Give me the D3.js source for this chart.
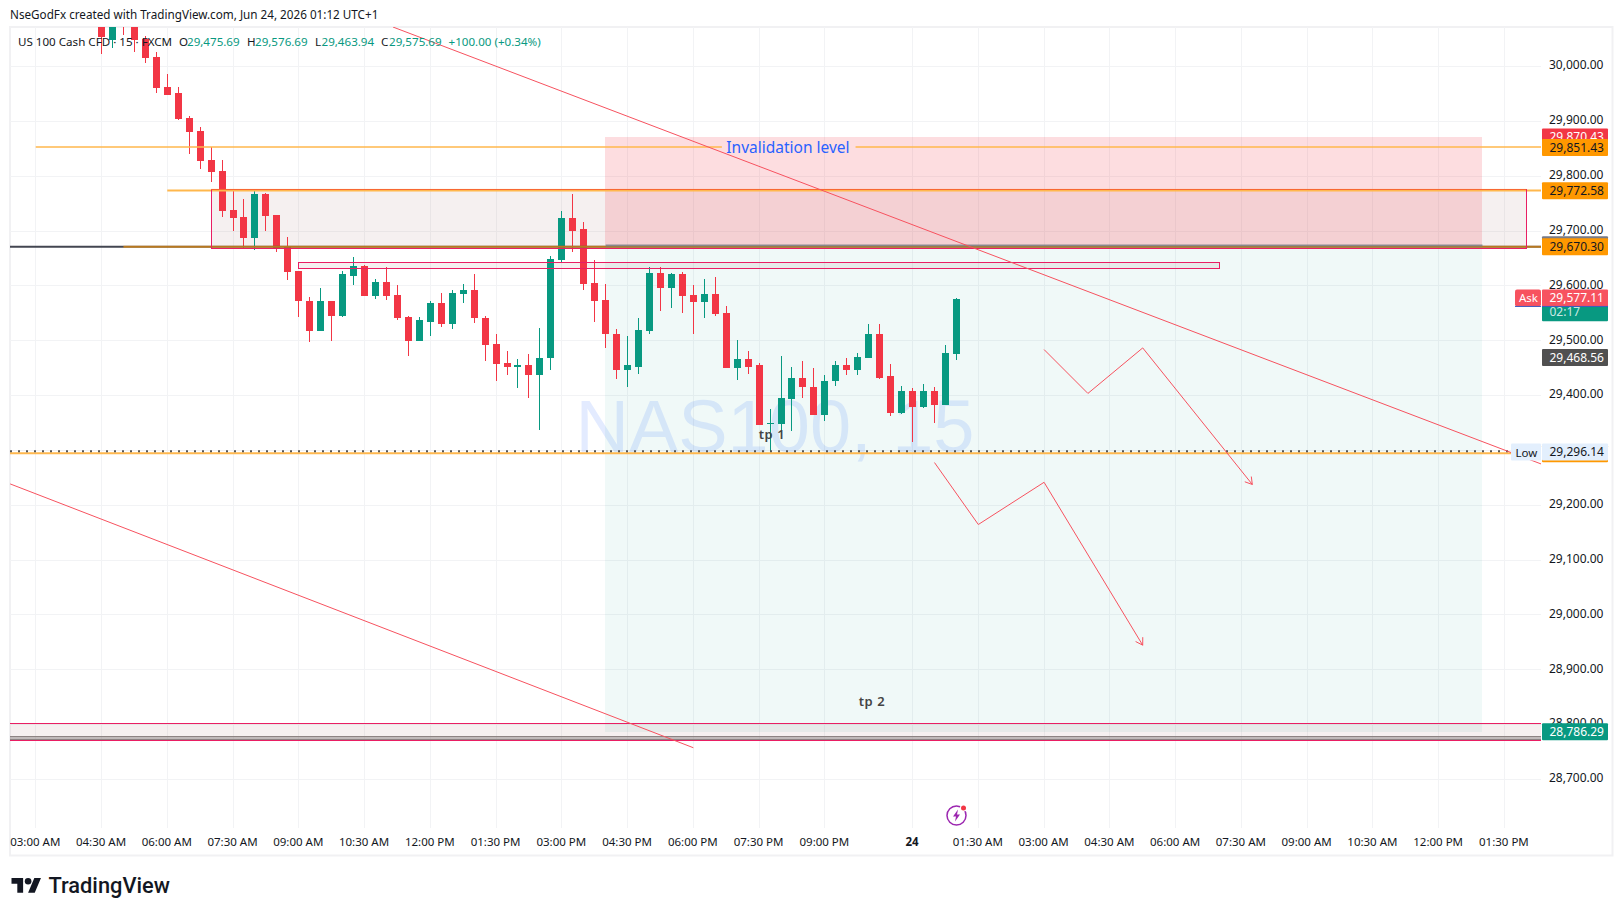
<!DOCTYPE html>
<html><head><meta charset="utf-8">
<script src="https://cdn.jsdelivr.net/npm/d3@7/dist/d3.min.js"></script>
<style>html,body{margin:0;padding:0;background:#fff;overflow:hidden}svg{display:block}text{font-family:"Noto Sans",sans-serif}</style>
</head><body><svg id="c" width="1623" height="916"></svg>
<script>
const opens=[30085,30048,30103,30088,30050,30016,29961,29950,29906,29881,29828,29808,29738,29724,29687,29766,29729,29671,29627,29572,29516,29572,29545,29618,29636,29580,29607,29583,29543,29498,29534,29567,29530,29585,29591,29541,29494,29459,29452,29454,29436,29467,29647,29722,29702,29605,29574,29512,29445,29452,29516,29623,29596,29620,29583,29569,29585,29549,29450,29465,29454,29348,29348,29392,29432,29415,29363,29425,29454,29446,29468,29511,29434,29368,29408,29379,29408,29381,29475.69];
const highs=[30103,30103,30112,30103,30054,30025,29986,29961,29908,29888,29853,29828,29773,29757,29773,29769,29729,29689,29627,29578,29596,29572,29627,29651,29638,29612,29634,29600,29545,29543,29571,29587,29591,29603,29620,29545,29511,29481,29465,29474,29523,29653,29735,29766,29716,29647,29603,29521,29507,29540,29634,29634,29623,29625,29601,29611,29616,29563,29501,29481,29459,29375,29472,29452,29463,29450,29436,29463,29467,29476,29530,29530,29456,29417,29412,29421,29415,29492,29576.69];
const lows=[30021,30032,30056,30026,30006,29950,29948,29901,29840,29813,29788,29724,29700,29669,29664,29700,29660,29609,29543,29496,29516,29499,29543,29601,29580,29576,29574,29536,29472,29498,29507,29525,29521,29567,29532,29463,29426,29437,29412,29395,29337,29446,29643,29660,29592,29534,29485,29430,29415,29439,29511,29554,29558,29550,29512,29541,29545,29450,29428,29439,29346,29297,29332,29335,29395,29363,29352,29417,29436,29436,29468,29430,29361,29366,29315,29377,29350,29381,29463.94];
const closes=[30052,30092,30085,30048,30014,29959,29948,29904,29879,29826,29806,29736,29722,29687,29766,29727,29669,29625,29571,29516,29572,29545,29620,29636,29580,29607,29581,29541,29498,29536,29567,29530,29587,29591,29540,29492,29457,29452,29454,29436,29468,29649,29722,29700,29603,29572,29511,29445,29454,29518,29623,29596,29620,29581,29569,29585,29547,29450,29465,29452,29346,29350,29394,29432,29414,29363,29426,29454,29446,29470,29511,29432,29368,29408,29379,29408,29381,29477,29575.69];
const priceTicks=[30000,29900,29800,29700,29600,29500,29400,29300,29200,29100,29000,28900,28800,28700];
const timeTickIndex=[-6,0,6,12,18,24,30,36,42,48,54,60,66,74,80,86,92,98,104,110,116,122,128];
const timeTickLabels=["03:00 AM","04:30 AM","06:00 AM","07:30 AM","09:00 AM","10:30 AM","12:00 PM","01:30 PM","03:00 PM","04:30 PM","06:00 PM","07:30 PM","09:00 PM","24","01:30 AM","03:00 AM","04:30 AM","06:00 AM","07:30 AM","09:00 AM","10:30 AM","12:00 PM","01:30 PM"];
const trendA=[[26.6,30071],[131.4,29274]];
const trendB=[[-8.33,29238],[54,28757]];
const arrowA=[[86,29483],[90,29403],[95,29486],[105,29237]];
const arrowB=[[76,29277],[80,29164],[86,29241],[95,28944]];
const invalidation=29851.43, resistTop=29772.58, resistBottom=29668, entry=29670.30, positionEntry=29674, stop=29870.43, target=28786.29, ask=29577.11, low=29296.14, lowLine=29294, mid=29468.56, last=29575.69;
const thinBox=[29642,29631], floorBox=[28801.6,28771], floorLines=[28777,28772.5];

const RED="#F23645",GREEN="#089981",PINK="#E91E63",ORANGE="#FFB74D",SALMON="#F7525F";
const L=10,R=1541,T=27,B=828;
const x=d3.scaleLinear().domain([0,128]).range([101.5,1504.4]);
const y=d3.scaleLinear().domain([28700,30000]).range([779,66]);
const svg=d3.select("#c");
const fmt=d3.format(",.2f");
const sx=v=>Math.floor(x(v))+.5, sy=v=>Math.round(y(v))+.5;

svg.append("defs").append("clipPath").attr("id","pane").append("rect").attr("x",L).attr("y",T).attr("width",R-L).attr("height",B-T);

// frame
svg.append("rect").attr("x",10).attr("y",27).attr("width",1602.5).attr("height",828.5).attr("fill","none").attr("stroke","#F1F1F3").attr("stroke-width",2);

// header
svg.append("text").attr("x",10).attr("y",19).attr("font-size",11.7).attr("fill","#131722").text("NseGodFx created with TradingView.com, Jun 24, 2026 01:12 UTC+1");

const pane=svg.append("g").attr("clip-path","url(#pane)");
// grid
pane.append("g").selectAll("line").data(priceTicks).join("line").attr("x1",L).attr("x2",R).attr("y1",sy).attr("y2",sy).attr("stroke","#F2F3F5").attr("shape-rendering","crispEdges");
pane.append("g").selectAll("line").data(timeTickIndex).join("line").attr("x1",sx).attr("x2",sx).attr("y1",T).attr("y2",B).attr("stroke","#F2F3F5").attr("shape-rendering","crispEdges");

// watermark
pane.append("text").attr("x",775).attr("y",451.5).attr("text-anchor","middle").attr("font-size",74).attr("style","font-family:'Liberation Sans',sans-serif").attr("fill","#2962FF").attr("fill-opacity",.13).text("NAS100, 15");

// rectangles & position
const rectP=(i0,i1,p0,p1)=>({x:x(i0),w:x(i1)-x(i0),y:y(p0),h:y(p1)-y(p0)});
function box(g,r,fill){g.append("rect").attr("x",Math.floor(r.x)).attr("y",Math.round(r.y)).attr("width",Math.round(r.w)).attr("height",Math.round(r.h)).attr("fill",fill).attr("shape-rendering","crispEdges");}
const zoneFill="rgba(130,67,67,.08)";
box(pane,rectP(10,130,resistTop,resistBottom),zoneFill);
box(pane,rectP(18,102,thinBox[0],thinBox[1]),zoneFill);
box(pane,{x:L-1,w:R-L+1,y:y(floorBox[0]),h:y(floorBox[1])-y(floorBox[0])},zoneFill);
box(pane,rectP(46,126,stop,positionEntry),"rgba(242,54,69,.17)");
box(pane,rectP(46,126,positionEntry,target),"rgba(8,153,129,.06)");

// candles
const bars=d3.range(opens.length).map(i=>({i,o:opens[i],h:highs[i],l:lows[i],c:closes[i]}));
const cg=pane.append("g").attr("shape-rendering","crispEdges");
cg.selectAll("rect.w").data(bars).join("rect").attr("class","w").attr("x",d=>Math.floor(x(d.i))).attr("width",1).attr("y",d=>Math.round(y(d.h))).attr("height",d=>Math.max(1,Math.round(y(d.l))-Math.round(y(d.h)))).attr("fill",d=>d.c>=d.o?GREEN:RED);
cg.selectAll("rect.b").data(bars).join("rect").attr("class","b").attr("x",d=>Math.floor(x(d.i))-3).attr("width",7).attr("y",d=>Math.round(y(Math.max(d.o,d.c)))).attr("height",d=>Math.max(1,Math.round(y(Math.min(d.o,d.c)))-Math.round(y(Math.max(d.o,d.c))))).attr("fill",d=>d.c>=d.o?GREEN:RED);

// horizontal levels
function hl(i0Px,i1Px,p,col,w,op,dy){pane.append("line").attr("x1",i0Px).attr("x2",i1Px).attr("y1",y(p)+(dy||0)).attr("y2",y(p)+(dy||0)).attr("stroke",col).attr("stroke-width",w).attr("stroke-opacity",op||1);}
hl(x(-6),x(56.6),invalidation,ORANGE,1.5,1,-.5);
hl(x(68.8),R,invalidation,ORANGE,1.5,1,-.5);
hl(x(6),R,resistTop,ORANGE,2,1,-.2);
hl(L,R,entry,"#434651",2);
hl(x(2),R,entry,"#FF9800",2,.62);
hl(x(46),x(126),positionEntry-1.5,"#787B86",2,.8);
// pink borders on top of levels
function border(a,up){const r=rectP(a[0],a[1],a[2],a[3]);const y0=Math.round(r.y)+up,y1=Math.round(r.y+r.h)+.5;
 pane.append("rect").attr("x",Math.floor(r.x)+.5).attr("y",y0).attr("width",Math.round(r.w)).attr("height",y1-y0).attr("fill","none").attr("stroke",PINK).attr("shape-rendering","crispEdges");}
border([10,130,resistTop,resistBottom],-1.5);
border([18,102,thinBox[0],thinBox[1]],.5);
hl(x(10),x(130),resistTop,"#FF8A1E",1,.75,-1.3);
floorLines.forEach(p=>hl(L,R,p,"#8C8383",1.4));
floorBox.forEach(p=>pane.append("line").attr("x1",L).attr("x2",R).attr("y1",sy(p)).attr("y2",sy(p)).attr("stroke",PINK).attr("shape-rendering","crispEdges"));

// low: orange + dotted
hl(L,R,lowLine,ORANGE,2);
pane.append("line").attr("x1",L).attr("x2",1511).attr("y1",y(low)-.8).attr("y2",y(low)-.8).attr("stroke","#555").attr("stroke-width",2).attr("stroke-dasharray","2 6");

// trend lines + arrows
const ln=d3.line().x(d=>x(d[0])).y(d=>y(d[1]));
[trendA,trendB,arrowA,arrowB].forEach(a=>pane.append("path").attr("d",ln(a)).attr("fill","none").attr("stroke",SALMON).attr("stroke-width",1));
[arrowA,arrowB].forEach(a=>{const p=a[a.length-1],q=a[a.length-2];const ex=x(p[0]),ey=y(p[1]);const ang=Math.atan2(ey-y(q[1]),ex-x(q[0]));
 [-.55,.55].forEach(o=>pane.append("line").attr("x1",ex).attr("y1",ey).attr("x2",ex-8*Math.cos(ang+o)).attr("y2",ey-8*Math.sin(ang+o)).attr("stroke",SALMON).attr("stroke-width",1));});

// notes
pane.append("text").attr("x",x(56.6)+4.5).attr("y",y(invalidation)+5.5).attr("font-size",15.5).attr("fill","#2962FF").text("Invalidation level");
pane.append("text").attr("x",772).attr("y",439).attr("text-anchor","middle").attr("font-size",13).attr("font-weight",600).attr("fill","#444").attr("letter-spacing",.6).text("tp 1");
pane.append("text").attr("x",872).attr("y",706).attr("text-anchor","middle").attr("font-size",13).attr("font-weight",600).attr("fill","#444").attr("letter-spacing",.6).text("tp 2");

// legend
const legend=svg.append("g").attr("font-size",11.6);
legend.append("text").attr("x",18).attr("y",46).attr("fill","#131722").text("US 100 Cash CFD · 15 · FXCM");
[["O","29,475.69",179],["H","29,576.69",247],["L","29,463.94",315],["C","29,575.69",381]].forEach(d=>{
 legend.append("text").attr("x",d[2]).attr("y",46).attr("fill","#131722").text(d[0]);
 legend.append("text").attr("x",d[2]+(d[0]=="L"?6.5:8)).attr("y",46).attr("fill",GREEN).text(d[1]);});
legend.append("text").attr("x",448.5).attr("y",46).attr("fill",GREEN).text("+100.00 (+0.34%)");

// axes
const ay=d3.axisRight(y).tickValues(priceTicks).tickSize(0).tickPadding(8).tickFormat(fmt);
const gy=svg.append("g").attr("transform",`translate(${R},-1)`).call(ay);
gy.select(".domain").remove();
gy.selectAll("text").attr("font-size",12).attr("fill","#131722").attr("style","font-family:'Noto Sans',sans-serif");
gy.selectAll(".tick").filter(d=>d==29300).remove();
const ax=d3.axisBottom(x).tickValues(timeTickIndex).tickSize(0).tickPadding(10).tickFormat((d,i)=>timeTickLabels[i]);
const gx=svg.append("g").attr("transform",`translate(-1,${B})`).call(ax);
gx.select(".domain").remove();
gx.selectAll("text").attr("font-size",11.5).attr("fill","#131722").attr("style","font-family:'Noto Sans',sans-serif").attr("font-weight",(d,i)=>timeTickLabels[i]=="24"?700:400);

// price tags
function tag(p,bg,fg,txt){const cy=y(p);
 svg.append("rect").attr("x",1542).attr("y",cy-8.5).attr("width",66).attr("height",17).attr("rx",1).attr("fill",bg);
 svg.append("text").attr("x",1549.5).attr("y",cy+4.3).attr("font-size",12).attr("fill",fg).text(txt);}
tag(positionEntry,"#787B86","#fff","");
tag(stop,RED,"#fff",fmt(stop));
tag(invalidation,"#FF9800","#131722",fmt(invalidation));
tag(resistTop,"#FF9800","#131722",fmt(resistTop));
tag(entry,"#FF9800","#131722",fmt(entry));
svg.append("rect").attr("x",1542).attr("y",y(last)-8).attr("width",66).attr("height",30.5).attr("rx",1).attr("fill",GREEN);
svg.append("text").attr("x",1549.5).attr("y",y(last)+17).attr("font-size",12).attr("fill","#fff").attr("fill-opacity",.8).text("02:17");
tag(ask,"#F7525F","#fff",fmt(ask));
svg.append("rect").attr("x",1542).attr("y",y(ask)+8).attr("width",66).attr("height",1).attr("fill","#3D5AC0");
svg.append("rect").attr("x",1515).attr("y",y(ask)-8.5).attr("width",26).attr("height",17).attr("rx",2).attr("fill","#F7525F");
svg.append("rect").attr("x",1515).attr("y",y(ask)+8).attr("width",26).attr("height",1).attr("fill","#3D5AC0");
svg.append("text").attr("x",1519).attr("y",y(ask)+4.3).attr("font-size",11.5).attr("fill","#fff").text("Ask");
tag(mid,"#505050","#fff",fmt(mid));
tag(lowLine-1,"#FF9800","#131722","");
tag(low,"#E3EFFD","#131722",fmt(low));
svg.append("rect").attr("x",1511).attr("y",y(low)-8.5).attr("width",30).attr("height",17).attr("rx",1).attr("fill","#E3EFFD");
svg.append("text").attr("x",1515.5).attr("y",y(low)+4.8).attr("font-size",11.5).attr("fill","#131722").text("Low");
tag(target,GREEN,"#fff",fmt(target));

// lightning icon
const ic=svg.append("g").attr("transform","translate(956.5,815.5)");
ic.append("circle").attr("r",9.5).attr("fill","none").attr("stroke","#9C27B0").attr("stroke-width",1.5);
ic.append("path").attr("d","M1.5,-6 L-3.5,1 L-0.5,1 L-1.5,6 L3.5,-1 L0.5,-1 Z").attr("fill","#9C27B0");
ic.append("circle").attr("cx",7).attr("cy",-7.5).attr("r",3.6).attr("fill","#fff");
ic.append("circle").attr("cx",7).attr("cy",-7.5).attr("r",2.5).attr("fill","#F23645");

// logo
const lg=svg.append("g").attr("transform","translate(11.5,874.6) scale(.83)").attr("fill","#131722");
lg.append("path").attr("d","M14 22H7V11H0V4h14v18zM28 22h-8l7.5-18h8L28 22z");
lg.append("circle").attr("cx",20).attr("cy",8).attr("r",4);
svg.append("text").attr("x",48.5).attr("y",893).attr("font-size",21.8).attr("font-weight",500).attr("style","font-family:'Roboto',sans-serif").attr("fill","#131722").text("TradingView");
</script></body></html>
